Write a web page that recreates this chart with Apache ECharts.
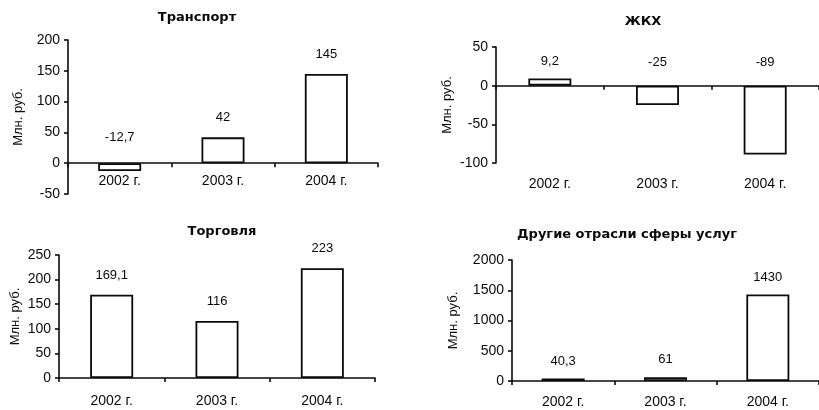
<!DOCTYPE html>
<html>
<head>
<meta charset="utf-8">
<script src="https://cdn.jsdelivr.net/npm/echarts@6/dist/echarts.min.js"></script>
<style>html,body{margin:0;padding:0;background:#fff}#c{width:819px;height:410px}</style>
</head>
<body>
<div id="c"></div>
<script>
const categories = ['2002 г.', '2003 г.', '2004 г.'];
const titles = ['Транспорт', 'ЖКХ', 'Торговля', 'Другие отрасли сферы услуг'];
const transport = [-12.7, 42, 145];
const zhkh = [9.2, -25, -89];
const trade = [169.1, 116, 223];
const other = [40.3, 61, 1430];
const yTicks1 = [-50, 200, 50];
const yTicks2 = [-100, 50, 50];
const yTicks3 = [0, 250, 50];
const yTicks4 = [0, 2000, 500];
const yName = 'Млн. руб.';

const FONT = 'Liberation Sans';
const INK = '#0a0a0a';
const panels = [
  {vals: transport, y: yTicks1, grid: {left: 68, top: 40, width: 310, height: 154}, title: {x: 197, y: 11}, catMargin: -20, nameGap: 43, dPos: 13, dNeg: 19},
  {vals: zhkh, y: yTicks2, grid: {left: 496, top: 47, width: 324, height: 116}, title: {x: 643, y: 15}, catMargin: 14, nameGap: 42, dPos: 11, dNeg: 17},
  {vals: trade, y: yTicks3, grid: {left: 59, top: 255, width: 316, height: 123}, title: {x: 222, y: 225}, catMargin: 16, nameGap: 37, dPos: 13, dNeg: 17},
  {vals: other, y: yTicks4, grid: {left: 512, top: 260, width: 312, height: 121}, title: {x: 627, y: 228}, catMargin: 14, nameGap: 52, dPos: 11, dNeg: 17}
];

const fmt = v => String(v).replace('.', ',');

const option = {
  animation: false,
  backgroundColor: '#fff',
  title: panels.map((p, i) => ({
    text: titles[i], left: p.title.x, top: p.title.y, textAlign: 'center', padding: 0,
    textStyle: {fontFamily: 'DejaVu Sans', fontWeight: 'bold', fontSize: 13, color: INK}
  })),
  grid: panels.map(p => Object.assign({containLabel: false}, p.grid)),
  xAxis: panels.map((p, i) => ({
    type: 'category', gridIndex: i, data: categories,
    axisLine: {onZero: true, lineStyle: {color: INK, width: 1.6}},
    axisTick: {show: true, inside: false, length: 4, lineStyle: {color: INK, width: 1.6}},
    axisLabel: {margin: p.catMargin, fontFamily: FONT, fontSize: 14, color: INK},
    splitLine: {show: false}
  })),
  yAxis: panels.map((p, i) => ({
    type: 'value', gridIndex: i, min: p.y[0], max: p.y[1], interval: p.y[2],
    name: yName, nameLocation: 'middle', nameGap: p.nameGap, nameRotate: 90,
    nameTextStyle: {fontFamily: FONT, fontSize: 13, color: INK},
    axisLine: {show: true, onZero: false, lineStyle: {color: INK, width: 1.6}},
    axisTick: {show: true, length: 4, lineStyle: {color: INK, width: 1.6}},
    axisLabel: {margin: 8, fontFamily: FONT, fontSize: 14, color: INK, formatter: v => String(v)},
    splitLine: {show: false}
  })),
  series: panels.map((p, i) => ({
    type: 'bar', xAxisIndex: i, yAxisIndex: i, barWidth: 43,
    itemStyle: {color: '#fff', borderColor: INK, borderWidth: 1.8},
    label: {show: true, position: 'top', fontFamily: FONT, fontSize: 13, color: INK, formatter: o => fmt(o.value)},
    data: p.vals.map(v => ({value: v, label: {distance: v < 0 ? p.dNeg : p.dPos}}))
  }))
};

const chart = echarts.init(document.getElementById('c'), null, {renderer: 'canvas'});
chart.setOption(option);
</script>
</body>
</html>
